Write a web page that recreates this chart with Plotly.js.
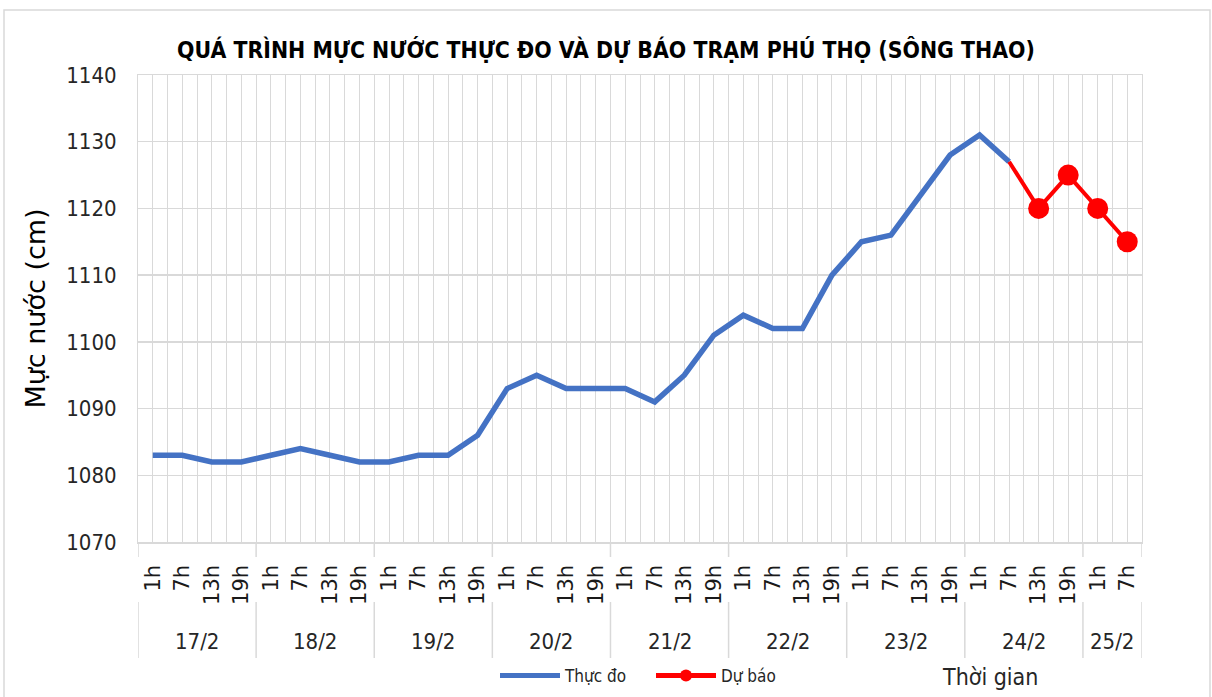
<!DOCTYPE html>
<html>
<head>
<meta charset="utf-8">
<script src="https://cdn.plot.ly/plotly-3.0.1.min.js"></script>
<style>html,body{margin:0;padding:0;background:#fff;}#chart{width:1212px;height:697px;}</style>
</head>
<body>
<div id="chart"></div>
<script>
// ---- data ----
const dayLabels = ['17/2','18/2','19/2','20/2','21/2','22/2','23/2','24/2','25/2'];
const daySizes = [4,4,4,4,4,4,4,4,2];
const hourLabels = ['1h','7h','13h','19h','1h','7h','13h','19h','1h','7h','13h','19h',
  '1h','7h','13h','19h','1h','7h','13h','19h','1h','7h','13h','19h',
  '1h','7h','13h','19h','1h','7h','13h','19h','1h','7h'];
const observed = [1083,1083,1082,1082, 1083,1084,1083,1082, 1082,1083,1083,1086,
  1093,1095,1093,1093, 1093,1091,1095,1101, 1104,1102,1102,1110,
  1115,1116,1122,1128, 1131,1127,null,null, null,null];
const forecast = [null,null,null,null, null,null,null,null, null,null,null,null,
  null,null,null,null, null,null,null,null, null,null,null,null,
  null,null,null,null, null,1127,1120,1125, 1120,1115];
const seriesNames = ['Thực đo','Dự báo'];
const chartTitle = 'QUÁ TRÌNH MỰC NƯỚC THỰC ĐO VÀ DỰ BÁO TRẠM PHÚ THỌ (SÔNG THAO)';
const yTitle = 'Mực nước (cm)';
const xTitle = 'Thời gian';

// ---- layout helpers ----
const NARROW = "'DejaVu Sans Condensed', 'Liberation Sans', sans-serif";
const WIDE = "'DejaVu Sans', 'Liberation Sans', sans-serif";
const xIdx = hourLabels.map((_, i) => i);
const W = 1212, H = 697, ML = 138, MR = 70, MT = 75, MB = 155;
const plotH = H - MT - MB, plotW = W - ML - MR;
const py = px => (H - MB - px) / plotH;     // pixel y -> paper y
const pxX = px => (px - ML) / plotW;        // pixel x -> paper x

const firstSeen = forecast.findIndex(v => v !== null);
const fcSizes = forecast.map((v, i) => (i === firstSeen ? 0 : 21));

const traces = [
  {x: xIdx, y: observed, name: seriesNames[0], type: 'scatter', mode: 'lines',
   line: {color: '#4472C4', width: 5.5}, connectgaps: false},
  {x: xIdx, y: forecast, name: seriesNames[1], type: 'scatter', mode: 'lines+markers',
   line: {color: '#FF0000', width: 4},
   marker: {color: '#FF0000', size: fcSizes, opacity: 1, line: {width: 0}}}
];

// group boundaries and day label annotations
const shapes = [];
const annotations = [];
let start = 0;
const bounds = [-0.5];
daySizes.forEach((n, k) => {
  annotations.push({x: start + (n - 1) / 2, xref: 'x', y: py(641), yref: 'paper',
    text: dayLabels[k], showarrow: false, xanchor: 'center', yanchor: 'middle',
    font: {family: NARROW, size: 22, color: '#262626'}});
  start += n;
  bounds.push(start - 0.5);
});
bounds.forEach(b => {
  shapes.push({type: 'line', xref: 'x', yref: 'paper', x0: b, x1: b, y0: 0, y1: py(557),
    line: {color: '#d9d9d9', width: 1.5}});
  shapes.push({type: 'line', xref: 'x', yref: 'paper', x0: b, x1: b, y0: py(602), y1: py(658),
    line: {color: '#d9d9d9', width: 1.5}});
});
annotations.push({x: pxX(990), xref: 'paper', y: py(677), yref: 'paper', text: xTitle,
  showarrow: false, xanchor: 'center', yanchor: 'middle',
  font: {family: NARROW, size: 23, color: '#262626'}});
// outer chart border
shapes.push({type: 'rect', xref: 'paper', yref: 'paper', x0: pxX(4), x1: pxX(1210),
  y0: py(720), y1: py(10), line: {color: '#d9d9d9', width: 1.5}, fillcolor: 'rgba(0,0,0,0)'});

const layout = {
  width: W, height: H,
  margin: {l: ML, r: MR, t: MT, b: MB, pad: 0, autoexpand: false},
  paper_bgcolor: '#fff', plot_bgcolor: '#fff',
  title: {text: '<b>' + chartTitle + '</b>', x: 0.5, xref: 'container', y: 1 - 50 / H,
    yref: 'container', xanchor: 'center', yanchor: 'middle',
    font: {family: NARROW, size: 22.8, color: '#000'}},
  xaxis: {range: [-0.5, hourLabels.length - 0.5], tickmode: 'array', tickvals: xIdx,
    ticktext: hourLabels, tickangle: -90, ticks: 'outside', ticklen: 13,
    tickcolor: 'rgba(0,0,0,0)', tickfont: {family: WIDE, size: 21, color: '#1a1a1a'},
    showgrid: true, gridcolor: '#d9d9d9', gridwidth: 1,
    minor: {tickmode: 'linear', tick0: -0.5, dtick: 1, showgrid: true, gridcolor: '#d9d9d9', gridwidth: 1, ticks: ''},
    showline: true, linecolor: '#d9d9d9', linewidth: 1.5, mirror: true, zeroline: false, fixedrange: true},
  yaxis: {range: [1070, 1140], dtick: 10, tick0: 1070, ticks: 'outside', ticklen: 16,
    tickcolor: 'rgba(0,0,0,0)', tickfont: {family: NARROW, size: 22, color: '#262626'},
    showgrid: true, gridcolor: '#d9d9d9', gridwidth: 1.5, showline: true, linecolor: '#d9d9d9',
    mirror: true, zeroline: false,
    title: {text: yTitle, standoff: 12, font: {family: WIDE, size: 27, color: '#000'}}},
  legend: {orientation: 'h', x: 495 / W, xref: 'container', xanchor: 'left',
    y: 1 - 676 / H, yref: 'container', yanchor: 'middle',
    font: {family: NARROW, size: 17, color: '#262626'}, itemsizing: 'constant', itemwidth: 60,
    entrywidth: 81, bgcolor: 'rgba(0,0,0,0)'},
  shapes: shapes, annotations: annotations, showlegend: true
};

Plotly.newPlot('chart', traces, layout, {displayModeBar: false, staticPlot: true});
</script>
</body>
</html>
